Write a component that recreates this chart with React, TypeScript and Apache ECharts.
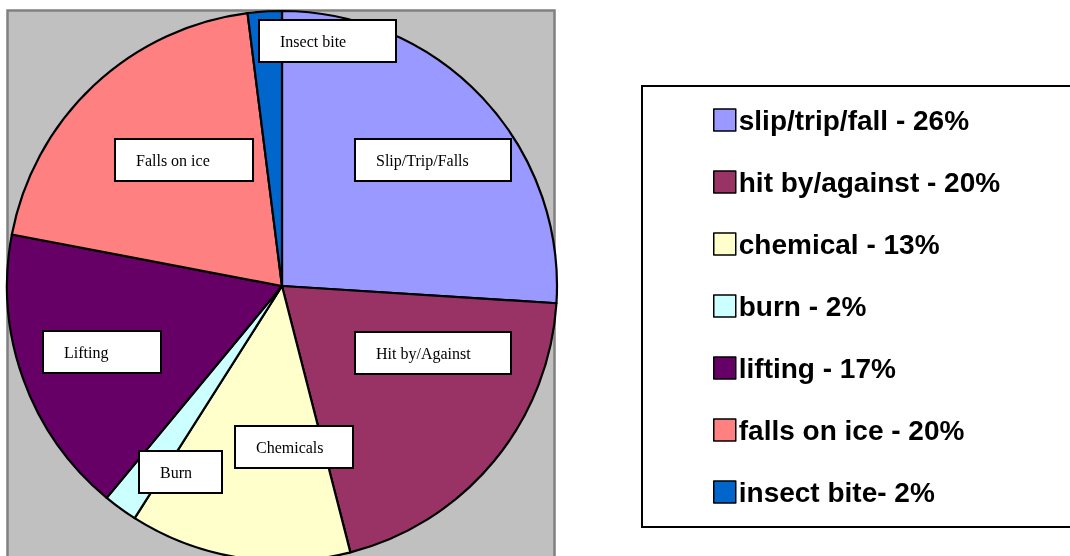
import React, { useEffect, useRef } from "react";
import * as echarts from "echarts";

const legendNames = [
  "slip/trip/fall - 26%",
  "hit by/against - 20%",
  "chemical - 13%",
  "burn - 2%",
  "lifting - 17%",
  "falls on ice - 20%",
  "insect bite- 2%",
];
const sliceLabels = [
  "Slip/Trip/Falls",
  "Hit by/Against",
  "Chemicals",
  "Burn",
  "Lifting",
  "Falls on ice",
  "Insect bite",
];
const values = [26, 20, 13, 2, 17, 20, 2];
const colors = ["#9999FF", "#993366", "#FFFFCC", "#CCFFFF", "#660066", "#FF8080", "#0066CC"];

// label box placement (left, top, box width)
const labelBoxes = [
  [356, 140, 154],
  [356, 333, 154],
  [236, 427, 116],
  [140, 452, 81],
  [44, 332, 116],
  [116, 140, 136],
  [260, 21, 135],
];

export default function App() {
  const ref = useRef<HTMLDivElement>(null);
  useEffect(() => {
    const chart = echarts.init(ref.current!, undefined, { renderer: "svg" });
    chart.setOption({
      animation: false,
      graphic: [
        {
          type: "rect",
          z: -10,
          shape: { x: 7.5, y: 10.5, width: 547, height: 560 },
          style: { fill: "#C0C0C0", stroke: "#808080", lineWidth: 2.5 },
        },
        {
          type: "rect",
          z: -10,
          shape: { x: 642, y: 86, width: 500, height: 441 },
          style: { fill: "#FFFFFF", stroke: "#000000", lineWidth: 2 },
        },
      ],
      legend: {
        orient: "vertical",
        left: 708,
        top: 101,
        itemWidth: 22,
        itemHeight: 22,
        itemGap: 34,
        icon: "rect",
        data: legendNames,
        itemStyle: { borderColor: "#000", borderWidth: 1.5 },
        textStyle: {
          fontFamily: "Liberation Sans, Arial, sans-serif",
          fontWeight: "bold",
          fontSize: 28,
          color: "#000",
          padding: [0, 0, 0, -2],
        },
        selectedMode: false,
      },
      series: [
        {
          type: "pie",
          center: [282, 286],
          radius: 275,
          startAngle: 90,
          clockwise: true,
          avoidLabelOverlap: false,
          itemStyle: { borderColor: "#000", borderWidth: 2.2 },
          emphasis: { disabled: true },
          labelLine: { show: false },
          label: {
            show: true,
            position: "inside",
            formatter: (p: any) => sliceLabels[p.dataIndex],
            fontFamily: "Liberation Serif, Times New Roman, serif",
            fontSize: 16,
            lineHeight: 16,
            color: "#000",
            backgroundColor: "#FFFFFF",
            borderColor: "#000",
            borderWidth: 2,
            align: "left",
            verticalAlign: "top",
          },
          labelLayout: (params: any) => {
            const b = labelBoxes[params.dataIndex];
            return { x: b[0], y: b[1], align: "left", verticalAlign: "top" };
          },
          data: values.map((v, i) => ({
            name: legendNames[i],
            value: v,
            itemStyle: { color: colors[i] },
            label: {
              width: labelBoxes[i][2] - 20,
              padding: [12, 0, 12, 20],
            },
          })),
        },
      ],
    });
    return () => chart.dispose();
  }, []);
  return (
    <div
      ref={ref}
      style={{ position: "fixed", left: 0, top: 0, width: 1070, height: 556 }}
    />
  );
}
